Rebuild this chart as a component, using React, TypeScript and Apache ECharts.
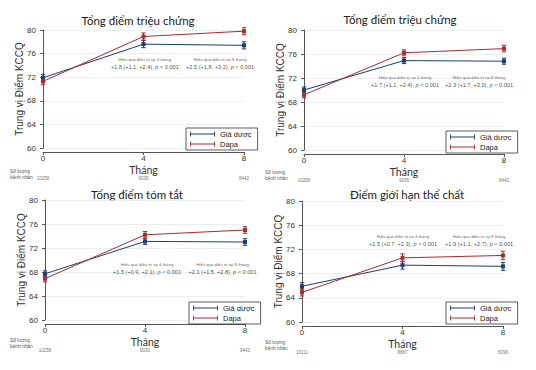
import React, { useEffect, useRef } from "react";
import * as echarts from "echarts";

const titles = ["Tổng điểm triệu chứng", "Tổng điểm triệu chứng", "Tổng điểm tóm tắt", "Điểm giới hạn thể chất"];
const months = [0, 4, 8];
const seriesNames = ["Giả dược", "Dapa"];
const placeboMean = [
  [71.9, 77.6, 77.4],
  [70.0, 74.9, 74.8],
  [67.7, 73.1, 73.0],
  [65.9, 69.4, 69.2],
];
const dapaMean = [
  [71.3, 78.9, 79.8],
  [69.2, 76.2, 76.9],
  [66.9, 74.2, 75.0],
  [64.9, 70.6, 71.0],
];
const placeboHalfCI = [
  [0.6, 0.6, 0.6],
  [0.5, 0.5, 0.5],
  [0.5, 0.5, 0.55],
  [0.6, 0.65, 0.65],
];
const dapaHalfCI = [
  [0.6, 0.6, 0.6],
  [0.5, 0.5, 0.55],
  [0.55, 0.55, 0.55],
  [0.6, 0.65, 0.7],
];
const patientCounts = [
  [10258, 9036, 8442],
  [10258, 9036, 8442],
  [10258, 9030, 8442],
  [10111, 8887, 8296],
];
const effect4 = ["+1.8 (+1.1, +2.4)", "+1.7 (+1.1, +2.4)", "+1.5 (+0.9, +2.1)", "+1.5 (+0.7, +2.3)"];
const effect8 = ["+2.5 (+1.8, +3.2)", "+2.3 (+1.7, +3.0)", "+2.1 (+1.5, +2.8)", "+1.9 (+1.1, +2.7)"];
const annX4 = [4.05, 4.04, 4.08, 4.02];
const annX8 = [7.05, 7.0, 7.1, 7.05];
const annY = [74.4, 71.5, 68.6, 73.45];

const BLUE = "#1d3c72";
const RED = "#ad2a2e";

// layout (pixels)
const grids = [
  { left: 43, top: 30, width: 201, height: 118 },
  { left: 304, top: 30, width: 200, height: 120 },
  { left: 45, top: 200, width: 200, height: 120 },
  { left: 302, top: 201, width: 201, height: 121 },
];
const titlePos = [
  [138, 20],
  [400, 19],
  [137, 194],
  [407, 194],
];
const legendPos = [
  [186, 128],
  [446, 131],
  [189, 302],
  [446, 302],
];
const countLabelPos = [
  [10, 168],
  [265, 169],
  [10, 337],
  [265, 339],
];

const FONT = "'Liberation Sans', Arial, sans-serif";
const TITLE_FONT = "Lato, 'Open Sans', sans-serif";

function errorBarRender(color: string) {
  return (params: any, api: any) => {
    const x = api.value(0);
    const lo = api.coord([x, api.value(1)]);
    const hi = api.coord([x, api.value(2)]);
    const cap = 2.2;
    const style = { stroke: color, lineWidth: 1 };
    return {
      type: "group",
      children: [
        { type: "line", shape: { x1: lo[0], y1: lo[1], x2: hi[0], y2: hi[1] }, style },
        { type: "line", shape: { x1: lo[0] - cap, y1: lo[1], x2: lo[0] + cap, y2: lo[1] }, style },
        { type: "line", shape: { x1: hi[0] - cap, y1: hi[1], x2: hi[0] + cap, y2: hi[1] }, style },
      ],
    };
  };
}

export default function App() {
  const ref = useRef<HTMLDivElement>(null);
  useEffect(() => {
    document.body.style.margin = "0";
    const chart = echarts.init(ref.current!, null, { renderer: "svg" });
    const xAxis: any[] = [];
    const yAxis: any[] = [];
    const series: any[] = [];
    const legend: any[] = [];
    const graphic: any[] = [];

    grids.forEach((g, i) => {
      xAxis.push({
        gridIndex: i,
        type: "value",
        min: 0,
        max: 8,
        interval: 4,
        offset: 4,
        axisLine: { show: true, lineStyle: { color: "#555", width: 1 } },
        axisTick: { show: true, length: 3, lineStyle: { color: "#555" } },
        axisLabel: { fontSize: 8, color: "#333", margin: 2, fontFamily: FONT },
        splitLine: { show: false },
        name: "Tháng",
        nameLocation: "middle",
        nameGap: 12,
        nameMoveOverlap: false,
        nameTextStyle: { fontSize: 10.5, color: "#333", fontFamily: TITLE_FONT, verticalAlign: "top" },
      });
      xAxis.push({
        gridIndex: i,
        type: "value",
        min: 0,
        max: 8,
        interval: 4,
        position: "bottom",
        offset: 28,
        axisLine: { show: false },
        axisTick: { show: false },
        splitLine: { show: false },
        axisLabel: {
          fontSize: 4.5,
          color: "#777",
          margin: 0,
          fontFamily: FONT,
          formatter: (v: number) => {
            const k = months.indexOf(v);
            return k >= 0 ? String(patientCounts[i][k]) : "";
          },
        },
      });
      yAxis.push({
        gridIndex: i,
        type: "value",
        min: 60,
        max: 80,
        interval: 4,
        offset: 3,
        axisLine: { show: true, lineStyle: { color: "#555", width: 1 } },
        axisTick: { show: true, length: 3, lineStyle: { color: "#555" } },
        axisLabel: { fontSize: 8, color: "#333", margin: 4, fontFamily: FONT },
        splitLine: { show: true, lineStyle: { color: "#e4ecec", width: 0.8 } },
        name: "Trung vị Điểm KCCQ",
        nameLocation: "middle",
        nameGap: 16,
        nameMoveOverlap: false,
        nameTextStyle: { fontSize: 10, color: "#333", fontFamily: FONT },
      });

      const groups = [
        { name: seriesNames[0], mean: placeboMean[i], half: placeboHalfCI[i], color: BLUE },
        { name: seriesNames[1], mean: dapaMean[i], half: dapaHalfCI[i], color: RED },
      ];
      groups.forEach((s) => {
        series.push({
          type: "line",
          name: s.name,
          xAxisIndex: 2 * i,
          yAxisIndex: i,
          data: months.map((m, j) => [m, s.mean[j]]),
          symbol: "rect",
          symbolSize: 4,
          lineStyle: { color: s.color, width: 1 },
          itemStyle: { color: s.color },
          z: 3,
        });
        series.push({
          type: "custom",
          name: s.name,
          xAxisIndex: 2 * i,
          yAxisIndex: i,
          data: months.map((m, j) => [m, s.mean[j] - s.half[j], s.mean[j] + s.half[j]]),
          renderItem: errorBarRender(s.color),
          itemStyle: { color: s.color },
          z: 3,
        });
      });

      const label = (k: string, eff: string) =>
        `{s|Hiệu quả điều trị tại ${k} tháng}\n{b|${eff}, }{i|p}{b| < 0.001}`;
      series.push({
        type: "scatter",
        name: "annotation",
        xAxisIndex: 2 * i,
        yAxisIndex: i,
        symbolSize: 0,
        silent: true,
        data: [
          { value: [annX4[i], annY[i]], label: { formatter: label("4", effect4[i]) } },
          { value: [annX8[i], annY[i]], label: { formatter: label("8", effect8[i]) } },
        ],
        label: {
          show: true,
          position: "inside",
          align: "center",
          verticalAlign: "middle",
          color: "#222",
          rich: {
            s: { fontSize: 4.3, color: "#333", fontFamily: FONT, lineHeight: 7, align: "center" },
            b: { fontSize: 5.6, color: "#222", fontFamily: FONT, lineHeight: 8 },
            i: { fontSize: 5.6, color: "#222", fontFamily: FONT, fontStyle: "italic", lineHeight: 8 },
          },
        },
      });

      legend.push({
        data: seriesNames,
        orient: "vertical",
        left: legendPos[i][0],
        top: legendPos[i][1],
        padding: [2, 6, 2, 4],
        itemGap: 2,
        itemWidth: 25,
        itemHeight: 5,
        icon: "path://M0,0h1v6h-1z M1,2.5h28v1h-28z M29,0h1v6h-1z",
        borderColor: "#333",
        borderWidth: 0.8,
        borderRadius: 0,
        backgroundColor: "#fff",
        textStyle: { fontSize: 7.5, color: "#222", fontFamily: FONT, padding: [0, 0, 0, 0] },
        selectedMode: false,
      });

      graphic.push({
        type: "text",
        x: titlePos[i][0],
        y: titlePos[i][1],
        style: {
          text: titles[i],
          fontSize: 11.5,
          fontFamily: TITLE_FONT,
          fill: "#222",
          textAlign: "center",
          textVerticalAlign: "middle",
        },
      });
      graphic.push({
        type: "text",
        x: countLabelPos[i][0],
        y: countLabelPos[i][1],
        style: {
          text: "Số lượng\nbệnh nhân",
          fontSize: 4.8,
          lineHeight: 6.5,
          fontFamily: FONT,
          fill: "#555",
        },
      });
    });

    chart.setOption({
      animation: false,
      backgroundColor: "#fff",
      grid: grids.map((g) => ({ ...g, containLabel: false })),
      xAxis,
      yAxis,
      series,
      legend,
      graphic,
    });
    return () => chart.dispose();
  }, []);
  return <div ref={ref} style={{ position: "fixed", left: 0, top: 0, width: 536, height: 370 }} />;
}
